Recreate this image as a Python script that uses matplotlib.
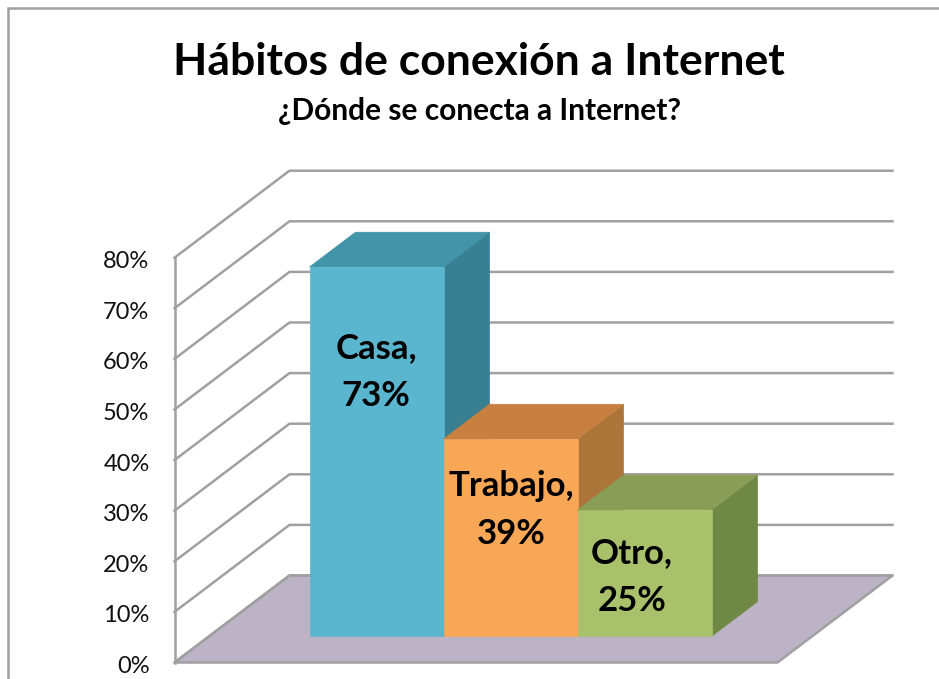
# 3D-look column chart, drawn with a small oblique projection on a flat pixel-scaled axes
import matplotlib
matplotlib.use("Agg")
import matplotlib.pyplot as plt
from matplotlib.patches import Polygon

plt.rcParams["font.family"] = ["Lato", "DejaVu Sans"]

TITLE = "Hábitos de conexión a Internet"
SUBTITLE = "¿Dónde se conecta a Internet?"
CATEGORIES = ["Casa", "Trabajo", "Otro"]
VALUES = [73, 39, 25]
TICKS = [0, 10, 20, 30, 40, 50, 60, 70, 80]

FRONT = ["#5AB6CF", "#F8A757", "#A9C16A"]
TOP = ["#4393A9", "#C7803F", "#8A9D56"]
SIDE = ["#387F91", "#AC763B", "#6F8845"]
GREY = "#A0A0A0"

# layout in pixels
X0, Y0 = 174.5, 662.5
UNIT_X = 134.0      # one bar width
UNIT_V = 5.06       # px per percent
DEPTH_X, DEPTH_Y = 115.0, 87.0
X_SPAN = 4.5        # plot width in bar widths
MARGIN = 0.75
D1, D2 = 0.30, 0.70  # bar depth range on the floor
LABEL_XY = [(376, 372), (511, 510), (632, 577)]

def proj(x, v, d):
    return (X0 + x * UNIT_X + d * DEPTH_X, Y0 - v * UNIT_V - d * DEPTH_Y)

fig = plt.figure(figsize=(9.39, 6.79), dpi=100)
ax = fig.add_axes([0, 0, 1, 1])
ax.set_xlim(0, 939); ax.set_ylim(679, 0); ax.axis("off")

# chart frame: only top and left show in the crop
ax.plot([8, 8, 939], [679, 7.5, 7.5], color=GREY, lw=1.8, solid_joinstyle="miter")

# floor
ax.add_patch(Polygon([proj(0, 0, 0), proj(X_SPAN, 0, 0), proj(X_SPAN, 0, 1), proj(0, 0, 1)],
                     fc="#BDB3C6", ec=GREY, lw=1.8, zorder=1))

# wall gridlines
for t in TICKS:
    pts = [proj(0, t, 0), proj(0, t, 1), proj(X_SPAN, t, 1)]
    ax.plot([p[0] for p in pts], [p[1] for p in pts], color=GREY, lw=1.8, zorder=2)
    x, y = proj(0, t, 0)
    ax.text(x - 25, y + 4, f"{t}%", ha="right", va="center", fontsize=17, color="#111111", zorder=5)
ax.plot([proj(0, 0, 0)[0], proj(0, TICKS[-1], 0)[0]], [proj(0, 0, 0)[1], proj(0, TICKS[-1], 0)[1]],
        color=GREY, lw=1.8, zorder=2)

# bars, left to right so the next top covers the previous side
for i, v in enumerate(VALUES):
    a, b = MARGIN + i, MARGIN + i + 1
    z = 3 + i * 0.1
    ax.add_patch(Polygon([proj(b, 0, D1), proj(b, 0, D2), proj(b, v, D2), proj(b, v, D1)],
                         fc=SIDE[i], ec=SIDE[i], lw=0.5, zorder=z))
    ax.add_patch(Polygon([proj(a, v, D1), proj(b, v, D1), proj(b, v, D2), proj(a, v, D2)],
                         fc=TOP[i], ec=TOP[i], lw=0.5, zorder=z))
    ax.add_patch(Polygon([proj(a, 0, D1), proj(b, 0, D1), proj(b, v, D1), proj(a, v, D1)],
                         fc=FRONT[i], ec=FRONT[i], lw=0.5, zorder=z))
    lx, ly = LABEL_XY[i]
    ax.text(lx, ly, f"{CATEGORIES[i]},\n{v}%", ha="center", va="center", fontsize=25,
            fontweight="bold", color="black", linespacing=1.6, zorder=6)

ax.text(479, 62, TITLE, ha="center", va="center", fontsize=32, fontweight="bold", color="black")
ax.text(479, 111, SUBTITLE, ha="center", va="center", fontsize=21.5, fontweight="bold", color="black")

fig.savefig("out.png", dpi=100)
